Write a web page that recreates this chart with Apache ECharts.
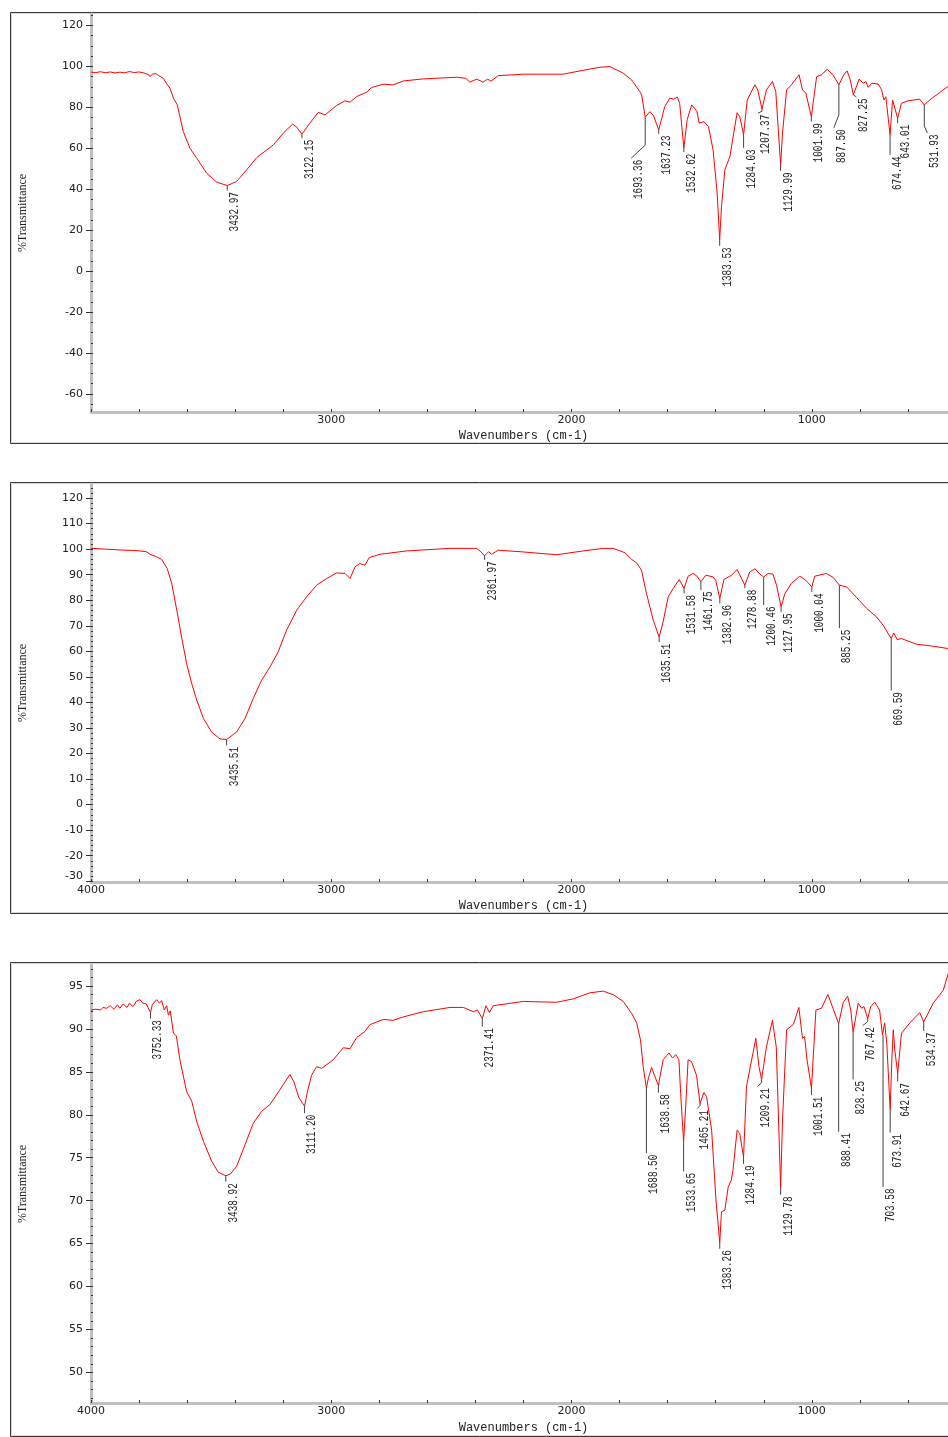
<!DOCTYPE html>
<html>
<head>
<meta charset="utf-8">
<script src="https://cdn.jsdelivr.net/npm/echarts@6/dist/echarts.min.js"></script>
<style>
html,body{margin:0;padding:0;background:#fff;}
#chart{width:948px;height:1437px;}
</style>
</head>
<body>
<div id="chart"></div>
<script>
// ---------- DATA (wavenumber cm-1, %Transmittance) ----------
const spectrum1 = [[4000,97.2],[3980,97.0],[3960,97.4],[3940,96.9],[3920,97.3],[3900,96.8],[3880,97.2],[3860,96.9],[3840,97.5],[3820,97.0],[3800,97.3],[3780,96.8],[3760,96.0],[3754,95.0],[3745,96.2],[3730,96.5],[3720,95.6],[3712,96.0],[3699,94.2],[3685,91.5],[3671,89.3],[3657,84.5],[3641,81.2],[3616,68.2],[3588,60.0],[3560,55.2],[3519,47.9],[3477,43.5],[3432.97,41.8],[3394,43.8],[3352,49.5],[3310,55.5],[3241,61.7],[3200,67.4],[3161,71.8],[3145,70.5],[3122.15,66.9],[3089,72.3],[3054,77.6],[3026,76.3],[2978,80.9],[2943,83.2],[2922,82.5],[2894,85.3],[2853,87.4],[2832,89.7],[2784,91.3],[2742,91.0],[2700,92.9],[2617,93.9],[2478,94.7],[2440,94.2],[2423,92.3],[2395,93.8],[2368,92.3],[2350,93.8],[2335,92.8],[2305,95.5],[2201,96.2],[2035,96.2],[1952,98.1],[1882,99.6],[1840,99.9],[1785,96.7],[1750,93.4],[1716,87.7],[1708,86.0],[1693.36,75.2],[1674,77.9],[1660,76.2],[1637.23,69.0],[1612,80.4],[1591,84.5],[1575,84.0],[1560,85.0],[1550,82.0],[1532.62,60.1],[1519,73.9],[1500,81.2],[1478,78.0],[1469,72.3],[1449,73.0],[1430,70.5],[1411,59.2],[1394,38.1],[1383.53,15.3],[1376,31.5],[1362,49.5],[1341,56.0],[1311,77.4],[1300,75.5],[1284.03,66.6],[1269,83.6],[1237,91.0],[1225,88.5],[1207.37,79.1],[1189,88.5],[1164,92.6],[1150,87.7],[1129.99,51.9],[1122,67.4],[1105,88.5],[1085,91.0],[1053,95.9],[1039,88.5],[1025,87.0],[1001.99,75.5],[980,95.0],[960,95.9],[936,98.6],[912,95.9],[887.50,91.0],[867,95.9],[853,97.8],[840,93.4],[827.25,86.1],[803,93.8],[786,91.8],[775,92.6],[766,89.8],[750,91.8],[724,91.4],[710,88.7],[700,83.6],[692,85.2],[674.44,66.6],[664,83.6],[658,84.0],[643.01,74.7],[627,82.0],[600,83.2],[551,84.0],[531.93,81.2],[509,83.6],[439,89.8],[420,91.0]];

const spectrum2 = [[4000,100.3],[3940,100.0],[3900,99.8],[3866,99.6],[3830,99.5],[3796,99.3],[3770,99.0],[3754,98.0],[3727,97.0],[3706,96.0],[3683,92.4],[3664,86.6],[3643,76.1],[3623,65.6],[3602,55.2],[3581,47.4],[3560,40.9],[3532,33.7],[3498,28.4],[3463,25.7],[3435.51,25.5],[3394,28.4],[3359,33.7],[3325,41.5],[3290,48.7],[3255,53.9],[3221,59.8],[3186,68.3],[3144,76.1],[3103,81.3],[3061,85.9],[3019,88.5],[2978,90.7],[2943,90.5],[2922,88.5],[2901,93.1],[2881,94.4],[2860,93.7],[2842,96.7],[2797,98.0],[2686,99.3],[2506,100.3],[2395,100.3],[2380,99.2],[2361.97,97.4],[2345,99.0],[2333,98.0],[2305,99.6],[2201,98.9],[2062,97.8],[1952,99.3],[1868,100.3],[1827,100.3],[1778,98.6],[1750,96.0],[1729,94.6],[1709,91.8],[1688,82.6],[1660,72.2],[1635.51,65.6],[1619,71.5],[1598,81.3],[1577,84.6],[1552,88.1],[1531.58,84.6],[1515,89.4],[1494,90.5],[1478,89.4],[1461.75,87.2],[1441,89.8],[1411,89.1],[1400,87.8],[1382.96,80.7],[1366,88.1],[1334,89.8],[1311,92.0],[1294,88.8],[1278.88,85.9],[1258,91.1],[1237,92.3],[1220,90.6],[1200.46,89.1],[1182,90.5],[1162,90.2],[1147,85.9],[1127.95,77.4],[1112,82.6],[1085,86.6],[1050,89.4],[1025,87.8],[1000.04,85.2],[988,89.4],[939,90.5],[911,88.9],[885.25,85.9],[855,85.2],[814,81.1],[772,76.8],[731,73.5],[703,70.2],[669.59,65.0],[659,67.2],[645,64.6],[627,65.0],[565,62.8],[495,62.0],[434,61.1],[400,60.8]];

const spectrum3 = [[4000,92.2],[3980,92.3],[3960,92.2],[3950,92.5],[3935,92.4],[3920,92.7],[3905,92.3],[3890,92.8],[3880,92.4],[3866,92.9],[3850,92.5],[3840,93.0],[3825,92.6],[3812,93.2],[3796,93.4],[3785,93.0],[3770,92.9],[3752.33,91.9],[3745,92.8],[3727,93.4],[3715,93.0],[3706,93.3],[3695,92.2],[3685,92.7],[3678,91.6],[3670,92.1],[3657,89.5],[3645,89.2],[3630,86.4],[3602,82.7],[3581,81.6],[3560,79.2],[3532,76.9],[3498,74.6],[3470,73.3],[3438.92,72.9],[3420,73.1],[3394,74.0],[3359,76.5],[3325,79.0],[3290,80.4],[3255,81.2],[3214,82.9],[3172,84.7],[3155,83.8],[3135,82.0],[3111.20,81.0],[3100,82.6],[3082,84.6],[3061,85.6],[3040,85.4],[2992,86.4],[2950,87.8],[2922,87.7],[2894,89.0],[2860,89.7],[2839,90.5],[2784,91.1],[2742,91.0],[2700,91.4],[2617,92.0],[2506,92.5],[2450,92.5],[2409,92.0],[2392,92.2],[2371.41,91.2],[2356,92.7],[2342,91.9],[2326,92.7],[2201,93.2],[2062,93.1],[1993,93.5],[1924,94.2],[1868,94.4],[1840,94.1],[1827,94.0],[1785,93.2],[1750,91.8],[1729,90.7],[1713,88.7],[1702,85.6],[1688.50,83.1],[1680,84.3],[1667,85.5],[1655,84.6],[1638.58,83.4],[1619,86.4],[1594,87.2],[1580,86.6],[1566,87.0],[1553,86.4],[1546,82.5],[1533.65,76.9],[1525,80.9],[1515,86.4],[1501,86.2],[1480,84.6],[1465.21,81.3],[1449,82.6],[1438,82.1],[1417,78.2],[1399,70.1],[1383.26,65.1],[1376,68.7],[1362,68.9],[1348,71.6],[1335,72.4],[1328,73.6],[1311,78.2],[1300,77.8],[1284.19,75.1],[1272,83.3],[1233,88.9],[1220,85.6],[1209.21,84.1],[1189,87.9],[1164,91.0],[1148,87.9],[1129.78,71.6],[1122,79.4],[1105,89.9],[1077,90.5],[1054,92.5],[1039,88.9],[1030,89.1],[1020,86.4],[1001.51,83.1],[983,92.2],[960,92.4],[933,94.0],[912,92.4],[888.41,90.6],[869,93.1],[851,93.8],[838,92.2],[828.25,89.6],[807,93.0],[793,92.4],[783,92.6],[767.42,91.2],[755,92.6],[738,93.1],[718,92.2],[706,89.3],[697,90.7],[688,88.3],[673.91,80.6],[667,86.4],[661,89.9],[655,87.6],[642.67,84.8],[627,89.5],[592,90.7],[551,91.9],[534.37,90.8],[495,93.0],[453,94.5],[434,96.3],[420,97.2]];

// labelled peaks [wavenumber, %T]
const peaks1 = [[3432.97,41.8],[3122.15,66.9],[1693.36,75.2],[1637.23,69.0],[1532.62,60.1],[1383.53,15.3],[1284.03,66.6],[1207.37,79.1],[1129.99,51.9],[1001.99,75.5],[887.50,91.0],[827.25,86.1],[674.44,66.6],[643.01,74.7],[531.93,81.2]];
const peaks2 = [[3435.51,25.5],[2361.97,97.4],[1635.51,65.6],[1531.58,84.6],[1461.75,87.2],[1382.96,80.7],[1278.88,85.9],[1200.46,89.1],[1127.95,77.4],[1000.04,85.2],[885.25,85.9],[669.59,65.0]];
const peaks3 = [[3752.33,91.9],[3438.92,72.9],[3111.20,81.0],[2371.41,91.2],[1688.50,83.1],[1638.58,83.4],[1533.65,76.9],[1465.21,81.3],[1383.26,65.1],[1284.19,75.1],[1209.21,84.1],[1129.78,71.6],[1001.51,83.1],[888.41,90.6],[828.25,89.6],[767.42,91.2],[703.58,89.3],[673.91,80.6],[642.67,84.8],[534.37,90.8]];

// axis tick labels
const xLabels1 = [3000, 2000, 1000];
const xLabels23 = [4000, 3000, 2000, 1000];
const yLabels1 = [-60,-40,-20,0,20,40,60,80,100,120];
const yLabels2 = [-30,-20,-10,0,10,20,30,40,50,60,70,80,90,100,110,120];
const yLabels3 = [50,55,60,65,70,75,80,85,90,95];

// ---------- LAYOUT (leader lines: vertical drop px, then offset dx, dy px) ----------
const leaders1 = [[5,0,0],[4,0,0],[28,-14,13],[4,0,0],[4,0,0],[6,0,0],[13,0,0],[2,-4,2],[6,0,0],[5,0,0],[30,-5,13],[0,3,2],[20,0,0],[5,0,0],[21,3,7]];
const leaders2 = [[6,0,0],[4,0,0],[5,0,0],[5,0,0],[8,0,0],[5,0,0],[3,0,0],[28,0,0],[5,0,0],[5,0,0],[43,0,0],[52,0,0]];
const leaders3 = [[6,0,0],[6,0,0],[7,0,0],[8,0,0],[65,0,0],[7,0,0],[30,0,0],[2,-3,3],[6,0,0],[7,0,0],[3,-4,4],[8,0,0],[7,0,0],[108,0,0],[47,0,0],[3,-5,4],[152,0,0],[23,0,0],[8,0,0],[9,0,0]];

function steps(a, b, s){ const r=[]; for(let v=a; v<=b+1e-9; v+=s) r.push(+v.toFixed(4)); return r; }

const panels = [
  {top:14, height:398, ymin:-68.8, ymax:125.6, yLabels:yLabels1, minor:steps(-65,125,5), xLabels:xLabels1, data:spectrum1, peaks:peaks1, leaders:leaders1, nameGap:18},
  {top:484, height:398, ymin:-30.3, ymax:125.5, yLabels:yLabels2, minor:steps(-30,124,2), xLabels:xLabels23, data:spectrum2, peaks:peaks2, leaders:leaders2, nameGap:18},
  {top:965, height:438, ymin:46.44, ymax:97.44, yLabels:yLabels3, minor:steps(47,97,1), xLabels:xLabels23, data:spectrum3, peaks:peaks3, leaders:leaders3, nameGap:19}
];

const TXT = '#222';
const AXIS_GREY = '#c0c0c0';
const grids=[], xAxes=[], yAxes=[], series=[];
panels.forEach((p, i) => {
  grids.push({left:91, top:p.top, width:865, height:p.height, outerBoundsMode:'none', containLabel:false});
  xAxes.push({
    gridIndex:i, type:'value', inverse:true, min:400, max:4000, interval:200,
    axisLine:{show:true, onZero:false, lineStyle:{color:AXIS_GREY, width:3}},
    axisTick:{show:true, inside:true, length:3, lineStyle:{color:'#333', width:1}},
    axisLabel:{margin:3, fontFamily:'DejaVu Sans', fontSize:11, color:TXT, showMinLabel:true, showMaxLabel:true,
      formatter: v => p.xLabels.indexOf(v) >= 0 ? String(v) : ''},
    splitLine:{show:false},
    name:'Wavenumbers (cm-1)', nameLocation:'middle', nameGap:p.nameGap,
    nameTextStyle:{fontFamily:'Liberation Mono', fontSize:12, color:TXT}
  });
  const lowest = p.yLabels[0];
  yAxes.push({
    gridIndex:i, type:'value', min:p.ymin, max:p.ymax, position:'left', offset:0,
    axisLine:{show:true, onZero:false, lineStyle:{color:AXIS_GREY, width:3}},
    axisTick:{show:true, length:5, customValues:p.yLabels, lineStyle:{color:'#333', width:1}},
    axisLabel:{customValues:p.yLabels, margin:8, fontFamily:'DejaVu Sans', fontSize:11, color:TXT,
      formatter: v => (i === 1 && v === lowest) ? '{up|' + v + '}' : String(v),
      rich:{up:{fontFamily:'DejaVu Sans', fontSize:11, color:TXT, padding:[0,0,10,0]}}},
    splitLine:{show:false},
    name:'%Transmittance', nameLocation:'middle', nameRotate:90, nameGap:62,
    nameTextStyle:{fontFamily:'Liberation Serif', fontSize:12, color:TXT}
  });
  yAxes.push({
    gridIndex:i, type:'value', min:p.ymin, max:p.ymax, position:'left', offset:0,
    axisLine:{show:false, onZero:false},
    axisTick:{show:true, inside:true, length:2, customValues:p.minor, lineStyle:{color:'#333', width:1}},
    axisLabel:{show:false}, splitLine:{show:false}
  });
  series.push({
    type:'line', xAxisIndex:i, yAxisIndex:i*2, data:p.data, showSymbol:false, symbol:'none',
    lineStyle:{color:'#ff0000', width:1}, silent:true, clip:true, z:3
  });
  const leaders = p.leaders;
  series.push({
    type:'custom', xAxisIndex:i, yAxisIndex:i*2, clip:false, silent:true, z:4,
    data:p.peaks.map((pk, k) => [pk[0], pk[1], k]),
    encode:{x:0, y:1},
    renderItem:(params, api) => {
      const c = api.coord([api.value(0), api.value(1)]);
      const L = leaders[api.value(2)];
      const x0=c[0], y0=c[1], x1=x0, y1=y0+L[0], x2=x0+L[1], y2=y1+L[2];
      return {type:'group', children:[
        {type:'polyline', shape:{points:[[x0,y0],[x1,y1],[x2,y2]]}, style:{stroke:'#444', lineWidth:1, fill:null}},
        {type:'text', x:x2+7.5, y:y2+1.5, rotation:Math.PI/2, scaleX:0.72, scaleY:1,
          style:{text:api.value(0).toFixed(2), font:'13px "Liberation Mono"', fill:TXT, align:'right', verticalAlign:'middle'}}
      ]};
    }
  });
});

// panel frames
const frames = [[12.5,431],[482.5,431],[962.5,474]];
const graphics = [];
frames.forEach(f => {
  graphics.push({type:'rect', z:-1, shape:{x:10.5, y:f[0], width:960, height:f[1]}, style:{fill:'#fff', stroke:'#3a3a3a', lineWidth:1}});
  graphics.push({type:'rect', z:-1, shape:{x:11.5, y:f[0]+1, width:960, height:f[1]-2}, style:{fill:null, stroke:'#d8d8d8', lineWidth:1}});
});

const chart = echarts.init(document.getElementById('chart'), null, {renderer:'canvas', width:948, height:1437});
chart.setOption({
  backgroundColor:'#ffffff',
  animation:false,
  graphic:graphics,
  grid:grids, xAxis:xAxes, yAxis:yAxes, series:series
});
</script>
</body>
</html>
